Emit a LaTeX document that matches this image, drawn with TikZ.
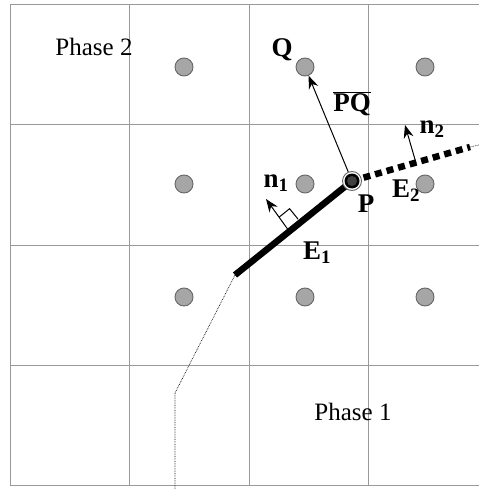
\documentclass[tikz,border=0pt]{standalone}
\usepackage{fontspec}
\setmainfont{Liberation Serif}
\usetikzlibrary{arrows.meta,calc}
\begin{document}
\begin{tikzpicture}[x=1pt,y=-1pt,
  gridline/.style={draw=black!40,line width=1pt},
  gdot/.style={circle,draw=black!60,fill=black!35,line width=0.9pt,minimum size=18pt,inner sep=0pt},
  lab/.style={font=\fontsize{27}{31}\selectfont\bfseries,inner sep=0pt},
  phase/.style={font=\fontsize{25}{30}\selectfont,inner sep=0pt},
  arr/.style={line width=1pt,-{Stealth[length=13pt,width=10pt]}}]
\useasboundingbox (0,0) rectangle (479,489);
\fill[white] (0,0) rectangle (479,489);
% grid
\foreach \x in {10,129,249,368} \draw[gridline] (\x,5) -- (\x,485);
\foreach \y in {5,125,245,365,485} \draw[gridline] (10,\y) -- (479,\y);
% dots
\node[gdot] (d11) at (184,67) {};
\node[gdot] (Qd) at (305,67) {};
\node[gdot] (d13) at (425,67) {};
\node[gdot] (d21) at (184,184) {};
\node[gdot] (d22) at (305,184) {};
\node[gdot] (d23) at (425,184) {};
\node[gdot] (d31) at (184,297) {};
\node[gdot] (d32) at (305,297) {};
\node[gdot] (d33) at (425,297) {};
% interface
\coordinate (E1end) at (235,275);
\coordinate (K1) at (175,393);
\coordinate (K2) at (175,489);
\coordinate (E2end) at (470,147);
\coordinate (E2tail) at (479,145);
\coordinate (Pc) at (352,181);
\draw[line width=0.7pt,densely dotted] (E1end) -- (K1) -- (K2);
\draw[line width=6.5pt] (Pc) -- (E1end);
\draw[line width=6.5pt,dash pattern=on 7pt off 5pt] ($(Pc)!12pt!(E2end)$) -- (E2end);
\draw[line width=0.7pt,densely dotted] (E2end) -- (E2tail);
% P point
\node[circle,draw=black!60,fill=white,line width=0.9pt,minimum size=19pt,inner sep=0pt] (P) at (Pc) {};
\fill[black] (Pc) circle (7.5pt);
\fill[black!75] (Pc) circle (5pt);
% PQ arrow
\draw[arr] (P) -- (Qd);
% n1 normal with right angle
\coordinate (F1) at (289,231);
\coordinate (N1) at (266,199);
\draw[arr] (F1) -- (N1);
\draw[line width=1pt] ($(F1)!17pt!(N1)$) -- ++(10.5,-8.5) -- ++(8.5,10.5);
% n2 normal
\coordinate (F2) at (416,163);
\coordinate (N2) at (405,125);
\draw[arr] (F2) -- (N2);
% labels
\node[phase] (ph2) at (94,47) {Phase 2};
\node[phase] (ph1) at (353,412) {Phase 1};
\node[lab] (lQ) at (282,50) {Q};
\node[lab] (lPQ) at (352,104) {$\overline{\mbox{\bfseries PQ}}$};
\node[lab] (ln1) at (276,183) {n\textsubscript{1}};
\node[lab] (ln2) at (432,129) {n\textsubscript{2}};
\node[lab] (lE1) at (317,253) {E\textsubscript{1}};
\node[lab] (lE2) at (406,191) {E\textsubscript{2}};
\node[lab] (lP) at (366,204) {P};
\end{tikzpicture}
\end{document}
